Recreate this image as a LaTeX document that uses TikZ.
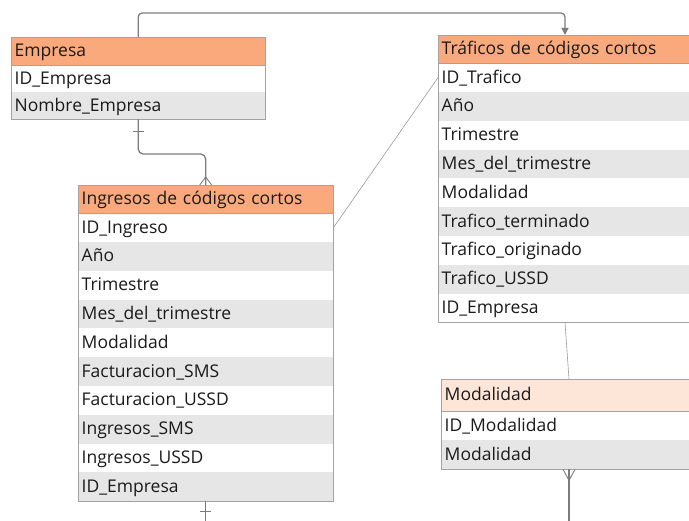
\documentclass[tikz,border=0pt]{standalone}
\usepackage{fontspec}
\setmainfont{Open Sans}
\usetikzlibrary{calc,arrows.meta}
\definecolor{hdr}{HTML}{F9A97B}
\definecolor{hdrl}{HTML}{FDE6D8}
\definecolor{rowg}{HTML}{E6E6E6}
\definecolor{bord}{HTML}{A3A3A3}
\definecolor{lnk}{HTML}{7C7C7C}
\definecolor{thin}{HTML}{9A9A9A}
\definecolor{txt}{HTML}{1A1A1A}
\begin{document}
\begin{tikzpicture}[x=1pt,y=-1pt,
  cell/.style={rectangle, anchor=north west, inner xsep=3.5pt, inner ysep=0pt,
    text height=12.5pt, text depth=1.5pt, align=left, text=txt,
    font=\fontsize{17.5}{19}\selectfont},
  frame/.style={draw=bord, line width=0.9pt},
  conn/.style={draw=lnk, line width=1.3pt},
  thinl/.style={draw=thin, line width=0.6pt}]
\useasboundingbox (0,0) rectangle (689,521);
\clip (0,0) rectangle (689,521);

% ---------- Empresa ----------
\node[cell, fill=hdr, minimum width=254pt, text width=247pt, minimum height=28pt] (emp) at (11,37) {Empresa};
\foreach \t [count=\i] in {ID\_Empresa, Nombre\_Empresa} {
  \ifodd\i \def\rc{white}\else\def\rc{rowg}\fi
  \node[cell, fill=\rc, minimum width=254pt, text width=247pt, minimum height=27pt] (emp-\i) at (11,{65+(\i-1)*27}) {\t};
}
\draw[frame] (emp.north west) rectangle (emp-2.south east);
\draw[frame] (emp.south west) -- (emp.south east);

% ---------- Traficos ----------
\node[cell, fill=hdr, minimum width=300pt, text width=293pt, minimum height=28pt] (tra) at (438,35) {Tráficos de códigos cortos};
\foreach \t [count=\i] in {ID\_Trafico, Año, Trimestre, Mes\_del\_trimestre, Modalidad, Trafico\_terminado, Trafico\_originado, Trafico\_USSD, ID\_Empresa} {
  \ifodd\i \def\rc{white}\else\def\rc{rowg}\fi
  \node[cell, fill=\rc, minimum width=300pt, text width=293pt, minimum height=28.8pt] (tra-\i) at (438,{63+(\i-1)*28.8}) {\t};
}
\draw[frame] (tra.north west) rectangle (tra-9.south east);
\draw[frame] (tra.south west) -- (tra.south east);

% ---------- Ingresos ----------
\node[cell, fill=hdr, minimum width=255pt, text width=248pt, minimum height=28pt] (ing) at (78,185) {Ingresos de códigos cortos};
\foreach \t [count=\i] in {ID\_Ingreso, Año, Trimestre, Mes\_del\_trimestre, Modalidad, Facturacion\_SMS, Facturacion\_USSD, Ingresos\_SMS, Ingresos\_USSD, ID\_Empresa} {
  \ifodd\i \def\rc{white}\else\def\rc{rowg}\fi
  \node[cell, fill=\rc, minimum width=255pt, text width=248pt, minimum height=28.8pt] (ing-\i) at (78,{213+(\i-1)*28.8}) {\t};
}
\draw[frame] (ing.north west) rectangle (ing-10.south east);
\draw[frame] (ing.south west) -- (ing.south east);

% ---------- Modalidad ----------
\node[cell, fill=hdrl, minimum width=300pt, text width=293pt, minimum height=32pt] (mod) at (441,379) {Modalidad};
\foreach \t [count=\i] in {ID\_Modalidad, Modalidad} {
  \ifodd\i \def\rc{white}\else\def\rc{rowg}\fi
  \node[cell, fill=\rc, minimum width=300pt, text width=293pt, minimum height=29pt] (mod-\i) at (441,{411+(\i-1)*29}) {\t};
}
\draw[frame] (mod.north west) rectangle (mod-2.south east);
\draw[frame] (mod.south west) -- (mod.south east);

% ---------- connectors ----------
\coordinate (traIn) at ($(tra.north west)+(127,0)$);
\coordinate (topY) at (0,13);
\draw[conn, rounded corners=4pt, -{Triangle[length=7pt,width=7pt]}] (emp.north) |- (topY -| traIn) -- (traIn);

\draw[conn, rounded corners=5pt] (emp-2.south) |- ($(ing.north)+(0,-31)$) -- (ing.north);
\draw[conn] ($(emp-2.south)+(-5.5,12)$) -- ++(11,0);
\draw[conn, line width=0.9pt] ($(ing.north)+(-6,0)$) -- ($(ing.north)+(0,-8)$) -- ($(ing.north)+(6,0)$);

\draw[thinl] (ing-1.east) -- (tra-1.west);

\coordinate (traB) at ($(tra-9.south west)+(127,0)$);
\coordinate (modT) at ($(mod.north west)+(128,0)$);
\draw[thinl] (traB) -- (modT);

\coordinate (ingEnd) at ($(ing-10.south)+(0,30)$);
\draw[conn] (ing-10.south) -- (ingEnd);
\draw[conn] ($(ing-10.south)+(-5.5,10)$) -- ++(11,0);

\coordinate (modB) at ($(mod-2.south west)+(128,0)$);
\coordinate (modEnd) at ($(modB)+(0,60)$);
\draw[conn] (modB) -- (modEnd);
\draw[conn, line width=0.9pt] ($(modB)+(-6,0)$) -- ($(modB)+(0,11)$) -- ($(modB)+(6,0)$);
\end{tikzpicture}
\end{document}
